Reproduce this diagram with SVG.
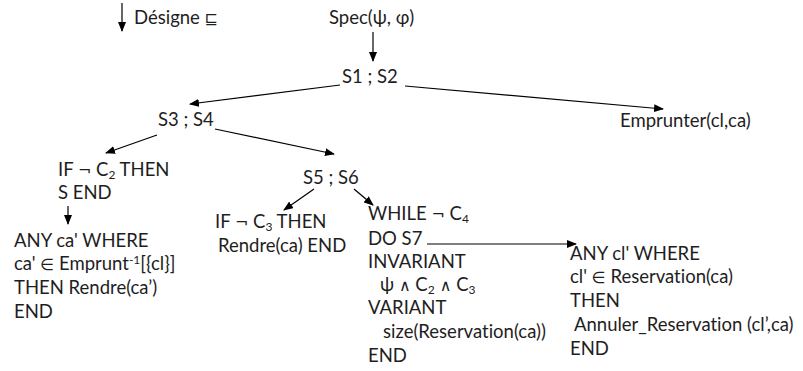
<svg xmlns="http://www.w3.org/2000/svg" width="803" height="371" viewBox="0 0 803 371">
<style>
text{font-family:Lato,"Open Sans","DejaVu Sans",sans-serif;font-size:18.5px;fill:#1e1e1e;font-variant-ligatures:none}
.s{font-size:12px}
.m{font-family:"DejaVu Sans",sans-serif;font-size:16px}
line{stroke:#000;stroke-width:1.2}
</style>
<defs>
<marker id="a" markerWidth="10" markerHeight="8" refX="9" refY="4" orient="auto" markerUnits="userSpaceOnUse">
<path d="M0,0 L10,4 L0,8 Z" fill="#000"/>
</marker>
</defs>
<rect width="803" height="371" fill="#fff"/>
<g id="legend">
<line x1="122" y1="3" x2="122" y2="31" marker-end="url(#a)"/>
<text x="134" y="24">Désigne <tspan class="m">⊑</tspan></text>
</g>
<g id="connectors">
<line x1="373" y1="32" x2="373" y2="61" marker-end="url(#a)"/>
<line x1="340" y1="85" x2="190" y2="104" marker-end="url(#a)"/>
<line x1="405" y1="86" x2="663" y2="109" marker-end="url(#a)"/>
<line x1="215" y1="129" x2="334" y2="154" marker-end="url(#a)"/>
<line x1="157" y1="135" x2="106" y2="153" marker-end="url(#a)"/>
<line x1="68" y1="206" x2="68" y2="224" marker-end="url(#a)"/>
<line x1="314" y1="189" x2="284" y2="210" marker-end="url(#a)"/>
<line x1="354" y1="189" x2="373" y2="205" marker-end="url(#a)"/>
<line x1="427" y1="244" x2="576" y2="244" marker-end="url(#a)"/>
</g>
<g id="spec"><text x="329" y="24">Spec(ψ, φ)</text></g>
<g id="s1s2"><text x="342" y="83">S1 ; S2</text></g>
<g id="emprunter"><text x="620" y="127">Emprunter(cl,ca)</text></g>
<g id="s3s4"><text x="158" y="126">S3 ; S4</text></g>
<g id="s5s6"><text x="303" y="184">S5 ; S6</text></g>
<g id="if2">
<text x="58" y="176">IF <tspan class="m">¬</tspan> C<tspan class="s" dy="3">2</tspan><tspan dy="-3"> THEN</tspan></text>
<text x="58" y="199">S END</text>
</g>
<g id="any1">
<text x="14" y="247">ANY ca' WHERE</text>
<text x="14" y="270">ca' <tspan class="m">∈</tspan> Emprunt<tspan class="s" dy="-6">-1</tspan><tspan dy="6">[{cl}]</tspan></text>
<text x="14" y="294">THEN Rendre(ca’)</text>
<text x="14" y="318">END</text>
</g>
<g id="if3">
<text x="215" y="228">IF <tspan class="m">¬</tspan> C<tspan class="s" dy="3">3</tspan><tspan dy="-3"> THEN</tspan></text>
<text x="218" y="252">Rendre(ca) END</text>
</g>
<g id="while">
<text x="368" y="220">WHILE <tspan class="m">¬</tspan> C<tspan class="s" dy="3">4</tspan></text>
<text x="368" y="245">DO S7</text>
<text x="368" y="268">INVARIANT</text>
<text x="380" y="291">ψ  <tspan class="m">∧</tspan> C<tspan class="s" dy="3">2</tspan><tspan class="m" dy="-3"> ∧</tspan><tspan> C</tspan><tspan class="s" dy="3">3</tspan></text>
<text x="368" y="314">VARIANT</text>
<text x="383" y="338">size(Reservation(ca))</text>
<text x="368" y="362">END</text>
</g>
<g id="any2">
<text x="570" y="260">ANY cl' WHERE</text>
<text x="570" y="283">cl' <tspan class="m">∈</tspan> Reservation(ca)</text>
<text x="570" y="307">THEN</text>
<text x="574" y="331">Annuler_Reservation (cl’,ca)</text>
<text x="570" y="355">END</text>
</g>
</svg>
